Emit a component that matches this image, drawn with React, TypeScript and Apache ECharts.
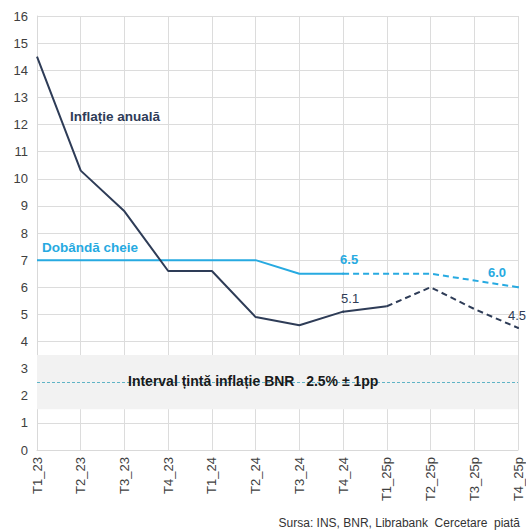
import React, { useEffect, useRef } from "react";
import * as echarts from "echarts";

const categories = ["T1_23", "T2_23", "T3_23", "T4_23", "T1_24", "T2_24", "T3_24", "T4_24", "T1_25p", "T2_25p", "T3_25p", "T4_25p"];
const inflationActual = [14.5, 10.3, 8.8, 6.6, 6.6, 4.9, 4.6, 5.1, 5.3, null, null, null];
const inflationForecast = [null, null, null, null, null, null, null, null, 5.3, 6.0, 5.2, 4.5];
const rateActual = [7, 7, 7, 7, 7, 7, 6.5, 6.5, null, null, null, null];
const rateForecast = [null, null, null, null, null, null, null, 6.5, 6.5, 6.5, 6.25, 6.0];
const yTicks = { min: 0, max: 16, interval: 1 };
const targetBand = { low: 1.5, mid: 2.5, high: 3.5 };

const NAVY = "#2e3c57";
const CYAN = "#27aae1";
const FONT = "'Liberation Sans', Arial, sans-serif";

export default function App() {
  const ref = useRef<HTMLDivElement>(null);
  useEffect(() => {
    document.body.style.margin = "0";
    const chart = echarts.init(ref.current!, null, { renderer: "svg" });
    const fmt = (p: any) => Number(p.value).toFixed(1);
    const labelAt = (arr: (number | null)[], idx: number, color: string, label: any) =>
      arr.map((v, i) =>
        i === idx && v !== null
          ? { value: v, symbol: "circle", symbolSize: 2, itemStyle: { color }, label: { show: true, formatter: fmt, ...label } }
          : v
      );
    chart.setOption({
      animation: false,
      textStyle: { fontFamily: FONT },
      grid: { left: 37, right: 8, top: 16, bottom: 81, containLabel: false },
      xAxis: {
        type: "category",
        data: categories,
        boundaryGap: false,
        axisLine: { lineStyle: { color: "#d9d9d9" } },
        axisTick: { show: false },
        splitLine: { show: true, lineStyle: { color: "#dcdcdc" } },
        axisLabel: { rotate: 90, fontSize: 13, color: "#404040", margin: 7, fontFamily: FONT },
      },
      yAxis: {
        type: "value",
        min: yTicks.min,
        max: yTicks.max,
        interval: yTicks.interval,
        axisLine: { show: true, lineStyle: { color: "#d9d9d9" } },
        splitLine: { lineStyle: { color: "#dcdcdc" } },
        axisLabel: { fontSize: 13, color: "#404040", margin: 9, fontFamily: FONT },
      },
      series: [
        {
          type: "line",
          data: [],
          silent: true,
          z: 1,
          markArea: {
            silent: true,
            itemStyle: { color: "#f2f2f2" },
            data: [[{ yAxis: targetBand.low }, { yAxis: targetBand.high }]],
          },
          markLine: {
            silent: true,
            symbol: "none",
            lineStyle: { color: "#5fb4c6", type: [3, 2], width: 1 },
            label: { show: false },
            data: [{ yAxis: targetBand.mid }],
          },
        },
        {
          type: "line",
          symbol: "none",
          data: labelAt(rateActual, 7, CYAN, {
            position: "top", distance: 7, offset: [6, 0], color: CYAN, fontWeight: "bold", fontSize: 13,
          }),
          lineStyle: { color: CYAN, width: 2 },
          itemStyle: { color: CYAN },
          z: 3,
        },
        {
          type: "line",
          symbol: "none",
          data: labelAt(rateForecast, 11, CYAN, {
            position: "top", distance: 7, offset: [-21, 0], color: CYAN, fontWeight: "bold", fontSize: 13,
          }),
          lineStyle: { color: CYAN, width: 2, type: [6, 4] },
          itemStyle: { color: CYAN },
          z: 3,
        },
        {
          type: "line",
          symbol: "none",
          data: labelAt(inflationActual, 7, NAVY, {
            position: "top", distance: 6, offset: [7, 0], color: NAVY, fontSize: 13,
          }),
          lineStyle: { color: NAVY, width: 2 },
          itemStyle: { color: NAVY },
          z: 4,
        },
        {
          type: "line",
          symbol: "none",
          data: labelAt(inflationForecast, 11, NAVY, {
            position: "top", distance: 5, offset: [-1, 0], color: NAVY, fontSize: 13,
          }),
          lineStyle: { color: NAVY, width: 2, type: [6, 4] },
          itemStyle: { color: NAVY },
          z: 4,
        },
      ],
      graphic: [
        {
          type: "text", left: 70, top: 109, z: 10,
          style: { text: "Inflație anuală", fill: NAVY, font: `bold 13.5px ${FONT}` },
        },
        {
          type: "text", left: 42, top: 240, z: 10,
          style: { text: "Dobândă cheie", fill: CYAN, font: `bold 13.5px ${FONT}` },
        },
        {
          type: "text", left: 128, top: 374, z: 10,
          style: { text: "Interval țintă inflație BNR   2.5% ± 1pp", fill: "#1a1a1a", font: `bold 14px ${FONT}` },
        },
        {
          type: "text", right: 6, bottom: 2, z: 10,
          style: { text: "Sursa: INS, BNR, Librabank  Cercetare  piată", fill: "#333333", font: `12px ${FONT}` },
        },
      ],
    });
    return () => chart.dispose();
  }, []);
  return <div ref={ref} style={{ width: 526, height: 531 }} />;
}
